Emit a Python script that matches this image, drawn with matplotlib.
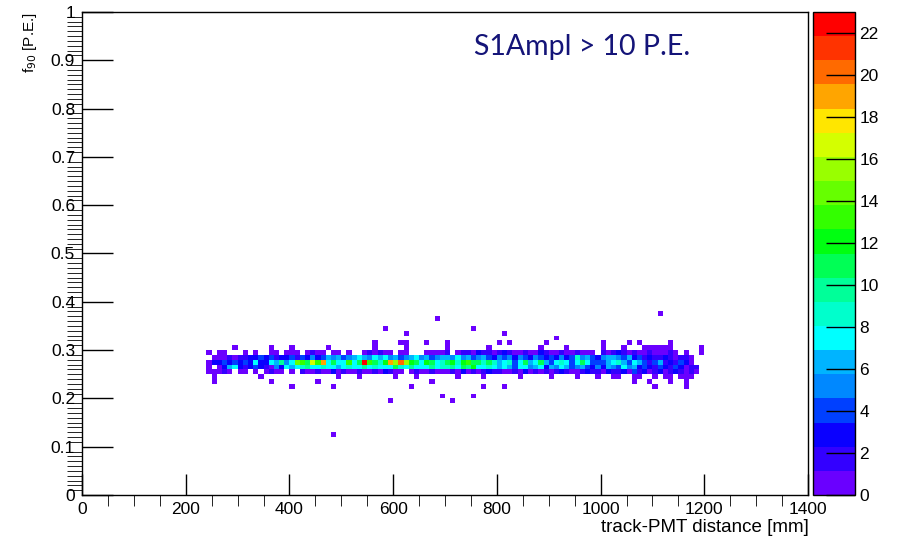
import numpy as np
import matplotlib.pyplot as plt
from matplotlib.colors import ListedColormap, BoundaryNorm
from matplotlib.ticker import MultipleLocator, FuncFormatter

plt.rcParams['font.family'] = ['Liberation Sans', 'DejaVu Sans']

# histogram binning: 10 mm in distance, 0.01 in f90
x_edges = np.arange(0, 1410, 10)
y_edges = np.linspace(0, 1, 101)

# main band, one list per f90 row, columns 240 mm ... 1190 mm
band_x = np.arange(240, 1200, 10)
row_025 = [1, 1, 1, 2, 1, 0, 1, 1, 0, 1, 0, 1, 2, 1, 1, 0, 1, 0, 2, 1, 1, 2, 1, 1,
           3, 1, 2, 1, 1, 2, 1, 1, 2, 1, 3, 2, 1, 1, 0, 1, 2, 1, 1, 2, 1, 1, 1, 2,
           1, 3, 1, 2, 1, 2, 3, 2, 2, 1, 1, 2, 1, 3, 1, 2, 1, 2, 1, 2, 3, 2, 1, 1,
           2, 3, 2, 2, 1, 3, 2, 2, 3, 1, 4, 2, 3, 1, 2, 3, 1, 2, 3, 2, 1, 2, 1, 0]
row_026 = [1, 0, 1, 3, 6, 7, 3, 2, 3, 4, 3, 2, 1, 5, 3, 7, 6, 7, 9, 10, 7, 8, 9, 7,
           8, 6, 7, 9, 8, 7, 10, 7, 9, 7, 7, 8, 11, 9, 8, 10, 7, 8, 7, 10, 8, 9, 9, 10,
           8, 11, 10, 12, 8, 7, 9, 7, 6, 8, 6, 4, 7, 8, 5, 6, 8, 3, 6, 5, 7, 6, 4, 5,
           6, 4, 3, 5, 3, 6, 5, 4, 7, 5, 6, 3, 4, 3, 2, 4, 3, 2, 4, 3, 1, 2, 2, 0]
row_027 = [1, 3, 3, 4, 3, 4, 3, 4, 3, 7, 3, 3, 8, 6, 10, 5, 7, 14, 13, 11, 17, 13, 19, 7,
           11, 8, 7, 13, 7, 11, 23, 13, 11, 9, 12, 19, 16, 20, 15, 12, 11, 7, 12, 11, 8, 9, 11, 12,
           9, 12, 13, 11, 11, 9, 11, 9, 6, 7, 9, 4, 7, 11, 6, 7, 11, 6, 4, 7, 9, 8, 4, 8,
           11, 7, 4, 4, 4, 6, 7, 9, 6, 4, 7, 6, 4, 2, 4, 6, 2, 3, 2, 4, 3, 1, 0, 0]
row_028 = [0, 1, 1, 1, 2, 1, 2, 2, 3, 3, 4, 3, 4, 2, 3, 3, 4, 2, 4, 3, 5, 3, 4, 6,
           5, 6, 4, 5, 6, 7, 6, 5, 7, 6, 7, 5, 6, 4, 5, 6, 7, 5, 6, 4, 5, 6, 6, 5,
           7, 5, 6, 4, 5, 6, 4, 3, 5, 4, 5, 3, 5, 4, 3, 5, 4, 3, 4, 3, 5, 3, 4, 9,
           5, 6, 4, 3, 5, 6, 6, 5, 4, 6, 3, 4, 2, 3, 2, 2, 3, 2, 1, 2, 2, 1, 0, 0]
row_029 = [1, 0, 1, 1, 0, 0, 0, 1, 0, 1, 0, 0, 1, 1, 0, 1, 1, 1, 0, 1, 2, 1, 1, 0,
           1, 1, 0, 1, 0, 0, 1, 2, 1, 2, 1, 1, 0, 1, 1, 0, 0, 0, 1, 1, 1, 1, 2, 0,
           1, 2, 2, 1, 3, 2, 2, 1, 2, 3, 2, 1, 1, 2, 1, 1, 3, 2, 1, 1, 2, 1, 1, 2,
           1, 1, 1, 0, 2, 1, 2, 3, 2, 1, 2, 1, 1, 2, 1, 1, 1, 2, 1, 0, 1, 0, 0, 1]
band_rows = {0.255: row_025, 0.265: row_026, 0.275: row_027,
             0.285: row_028, 0.295: row_029}

# isolated single entries (distance in mm, f90)
single_x = [295, 365, 405, 475, 565, 625, 705, 785, 885, 935, 1005, 1045, 1085,
            1095, 1105, 1115, 1125, 1135, 1195,
            565, 615, 625, 665, 705, 805, 825, 895, 1005, 1055, 1075, 1135,
            915, 625, 815, 585, 755, 685, 1115,
            255, 345, 495, 535, 605, 645, 725, 775, 845, 905, 955, 995, 1025,
            1035, 1065, 1075, 1105, 1125, 1135, 1155, 1165, 1175,
            255, 365, 455, 675, 1065, 1095, 1135, 1165,
            405, 485, 635, 775, 815, 1105, 1165,
            695, 755, 595, 715, 485]
single_y = [0.305] * 19 + [0.315] * 12 + [0.325, 0.335, 0.335, 0.345, 0.345, 0.365, 0.375] \
    + [0.245] * 22 + [0.235] * 8 + [0.225] * 7 + [0.205, 0.205, 0.195, 0.195, 0.125]

# ROOT-like palette, 20 contour levels
palette = ['#6a00ff', '#3300ff', '#0a00ff', '#0040ff', '#0088ff', '#00b4ff',
           '#00ffff', '#00ffcc', '#00ff99', '#00ff55', '#00ff11', '#33ff00',
           '#66ff00', '#99ff00', '#d4ff00', '#ffe600', '#ffa500', '#ff6a00',
           '#ff3300', '#ff0000']
z_max = 23
levels = np.linspace(0, z_max, 21)

# fill histogram
H = np.zeros((len(x_edges) - 1, len(y_edges) - 1))
for yc, vals in band_rows.items():
    h, _, _ = np.histogram2d(band_x + 5, np.full(len(band_x), yc),
                             bins=[x_edges, y_edges], weights=vals)
    H += h
h, _, _ = np.histogram2d(single_x, single_y, bins=[x_edges, y_edges])
H += h
H = np.ma.masked_equal(H, 0)

fig = plt.figure(figsize=(8.97, 5.41), dpi=100)
ax = fig.add_axes([82 / 897, 1 - 495 / 541, 726 / 897, 483 / 541])

cmap = ListedColormap(palette)
cmap.set_over(palette[-1])
norm = BoundaryNorm(levels, cmap.N)
mesh = ax.pcolormesh(x_edges, y_edges, H.T, cmap=cmap, norm=norm)

ax.set_xlim(0, 1400)
ax.set_ylim(0, 1)
ax.xaxis.set_major_locator(MultipleLocator(200))
ax.xaxis.set_minor_locator(MultipleLocator(50))
ax.yaxis.set_major_locator(MultipleLocator(0.1))
ax.yaxis.set_minor_locator(MultipleLocator(0.01))
ax.yaxis.set_major_formatter(FuncFormatter(lambda v, p: f'{v:g}'))
ax.tick_params(direction='in', labelsize=12.5, width=1, color='black')
ax.tick_params(axis='x', which='major', length=15, pad=5)
ax.tick_params(axis='x', which='minor', length=8)
ax.tick_params(axis='y', which='major', length=22, pad=5)
ax.tick_params(axis='y', which='minor', length=11)
for s in ax.spines.values():
    s.set_linewidth(1)

fig.text(809 / 897, 1 - 527 / 541, 'track-PMT distance [mm]', ha='right',
         va='center', fontsize=13.5)
fig.text(30 / 897, 1 - 12 / 541, 'f$_{90}$ [P.E.]', rotation=90, ha='center',
         va='top', fontsize=11)
ax.text(0.689, 0.928, 'S1Ampl > 10 P.E.', transform=ax.transAxes, ha='center',
        va='center', fontsize=20.5, fontweight='normal', color='#141478',
        family=['Lato', 'DejaVu Sans'])

# palette axis
cax = fig.add_axes([813 / 897, 1 - 495 / 541, 42 / 897, 483 / 541])
cb = fig.colorbar(mesh, cax=cax, ticks=range(0, 23, 2))
cb.outline.set_linewidth(1)
cax.tick_params(direction='in', length=21, width=1, labelsize=12.5, pad=3)
cax.minorticks_off()

fig.savefig('out.png', dpi=100)
